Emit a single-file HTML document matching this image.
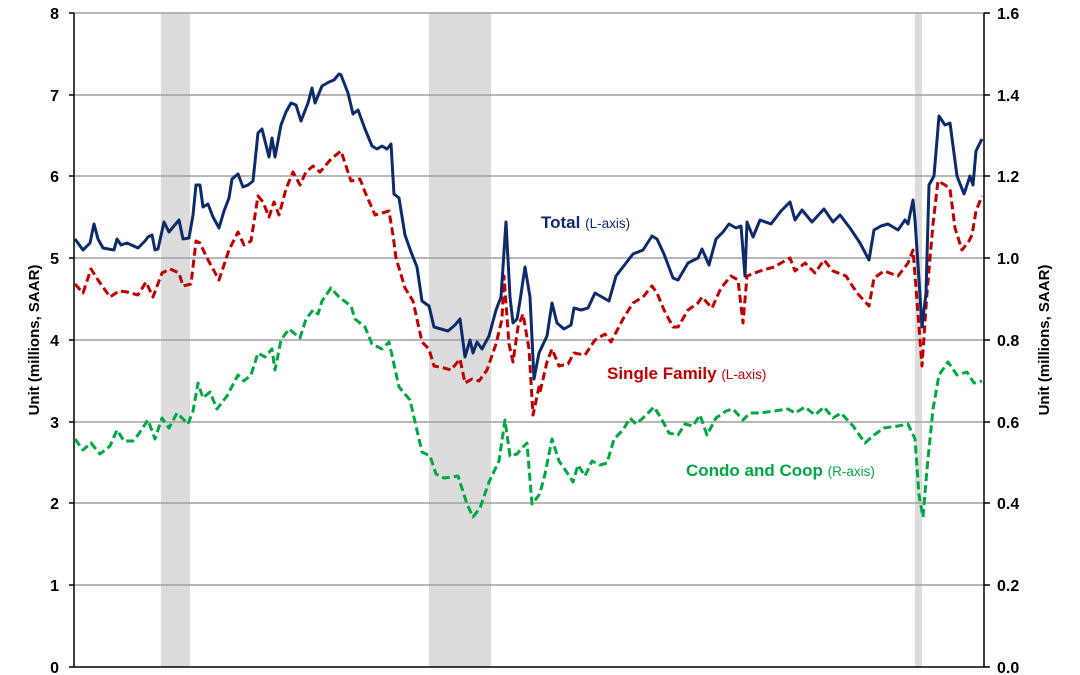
<!DOCTYPE html>
<html><head><meta charset="utf-8"><style>body{margin:0;background:#fff}svg{display:block}text{font-family:"Liberation Sans",Arial,sans-serif}</style></head><body>
<svg width="1080" height="675" viewBox="0 0 1080 675">
<rect x="161" y="13" width="29" height="654" fill="#dcdcdc"/>
<rect x="429" y="13" width="62" height="654" fill="#dcdcdc"/>
<rect x="915" y="13" width="7" height="654" fill="#dcdcdc"/>
<g stroke="#a0a0a0" stroke-width="1.5">
<line x1="74" x2="984" y1="13" y2="13"/><line x1="74" x2="984" y1="95" y2="95"/><line x1="74" x2="984" y1="176" y2="176"/><line x1="74" x2="984" y1="258" y2="258"/><line x1="74" x2="984" y1="340" y2="340"/><line x1="74" x2="984" y1="422" y2="422"/><line x1="74" x2="984" y1="503" y2="503"/><line x1="74" x2="984" y1="585" y2="585"/>
</g>
<g stroke="#000" stroke-width="1.5">
<line x1="74" x2="74" y1="13" y2="667"/><line x1="984" x2="984" y1="13" y2="667"/><line x1="69" x2="990" y1="667" y2="667"/>
<path d="M69 13H74M69 95H74M69 176H74M69 258H74M69 340H74M69 422H74M69 503H74M69 585H74M984 13H990M984 95H990M984 176H990M984 258H990M984 340H990M984 422H990M984 503H990M984 585H990"/>
</g>
<g font-size="16" font-weight="bold" fill="#000" text-anchor="end">
<text x="59" y="19">8</text><text x="59" y="101">7</text><text x="59" y="182">6</text><text x="59" y="264">5</text><text x="59" y="346">4</text><text x="59" y="428">3</text><text x="59" y="509">2</text><text x="59" y="591">1</text><text x="59" y="673">0</text>
</g>
<g font-size="16" font-weight="bold" fill="#000">
<text x="997" y="19">1.6</text><text x="997" y="101">1.4</text><text x="997" y="182">1.2</text><text x="997" y="264">1.0</text><text x="997" y="346">0.8</text><text x="997" y="428">0.6</text><text x="997" y="509">0.4</text><text x="997" y="591">0.2</text><text x="997" y="673">0.0</text>
</g>
<text transform="translate(39,340) rotate(-90)" text-anchor="middle" font-size="15" font-weight="bold">Unit (millions, SAAR)</text>
<text transform="translate(1049,340) rotate(-90)" text-anchor="middle" font-size="15" font-weight="bold">Unit (millions, SAAR)</text>
<polyline fill="none" stroke="#00a843" stroke-width="3" stroke-dasharray="8,4" stroke-linejoin="round" points="75,439 83,450 91,443 100,454 110,446 117,430 124,441 133,441 138,435 148,420 155,439 162,418 169,428 177,413 188,424 193,411 198,383 203,398 210,392 217,409 227,396 238,375 244,381 251,375 258,353 265,357 272,349 275,370 281,340 289,329 300,338 306,319 313,310 318,314 322,301 331,288 339,297 351,306 355,319 365,327 372,344 382,349 389,342 399,387 410,400 422,452 430,456 436,474 444,478 458,476 467,504 473,517 480,508 489,482 499,461 505,420 510,456 517,454 522,448 527,443 532,504 539,495 540,493 545,474 552,439 559,461 568,474 573,482 578,465 585,476 592,461 600,465 607,463 614,439 623,430 630,418 636,424 643,418 654,407 661,418 669,433 678,435 685,424 693,426 700,415 707,435 716,418 726,411 733,409 743,420 750,413 760,413 774,411 788,409 795,413 805,407 815,415 824,407 833,418 841,413 853,426 865,443 874,435 884,428 898,426 908,424 915,439 919,495 923,517 927,469 933,409 939,375 948,362 957,375 967,372 974,383 982,381"/>
<polyline fill="none" stroke="#c00000" stroke-width="3" stroke-dasharray="8,4" stroke-linejoin="round" points="75,284 83,293 91,269 98,280 110,297 119,291 127,292 138,295 146,282 153,297 162,273 170,269 179,273 183,286 191,284 196,241 200,243 207,258 219,280 229,250 238,232 244,245 251,241 258,196 263,202 269,217 274,202 279,215 286,189 293,172 300,185 306,172 313,166 320,172 331,159 341,151 351,181 360,179 365,192 375,215 382,213 389,211 393,235 396,258 405,288 413,301 422,342 429,349 434,366 444,368 451,370 460,359 465,383 472,379 479,381 487,370 496,344 502,319 504,276 509,344 513,362 518,327 523,314 529,349 533,415 539,387 540,392 547,362 552,349 559,366 568,364 574,353 585,355 595,340 605,334 611,342 623,319 633,303 643,297 652,286 657,293 664,310 673,327 678,327 688,310 698,303 702,297 712,308 721,288 731,276 738,280 743,323 747,276 760,271 774,267 781,263 790,258 795,271 805,263 815,273 824,260 833,271 846,276 857,293 869,306 874,278 884,271 898,276 908,263 913,250 917,301 922,366 927,293 933,224 938,181 945,185 950,189 955,228 962,250 969,241 972,235 976,211 982,196"/>
<polyline fill="none" stroke="#0d2a6b" stroke-width="3" stroke-linejoin="round" points="75,239 83,250 90,243 94,224 98,239 103,248 114,250 117,239 121,245 127,243 138,248 145,241 148,237 152,235 155,250 158,249 164,222 169,232 174,226 179,220 183,239 189,238 193,215 196,185 200,185 203,207 208,204 213,217 219,228 224,211 229,198 232,179 238,174 243,187 248,185 253,181 258,133 262,129 269,157 272,138 275,157 281,125 286,112 291,103 296,105 301,121 308,103 312,88 315,103 322,86 329,82 334,80 339,74 341,75 348,93 353,114 358,110 365,129 372,146 377,149 382,146 387,149 391,144 394,194 399,198 405,235 411,252 417,267 422,301 429,306 434,327 441,329 448,331 455,325 460,319 465,357 470,340 473,353 477,342 482,349 489,336 496,310 501,297 506,222 510,297 513,323 517,319 520,301 525,267 530,297 534,379 539,353 547,336 552,303 557,323 564,329 571,325 574,308 581,310 588,308 595,293 602,297 609,301 616,276 626,263 633,254 643,250 652,236 657,239 664,254 673,278 678,280 688,263 698,258 702,249 709,265 716,239 723,232 729,224 736,228 741,226 745,276 747,222 753,237 760,220 771,224 781,211 790,202 795,220 802,210 812,222 824,209 833,222 840,215 850,228 860,243 869,260 874,230 881,226 888,224 898,230 905,220 908,224 913,200 915,220 919,280 922,327 926,293 929,185 934,176 939,116 945,125 950,123 957,176 964,194 970,176 973,185 976,151 982,139"/>
<text x="541" y="228" font-size="17" font-weight="bold" fill="#0d2a6b">Total <tspan font-size="13.5" font-weight="normal">(L-axis)</tspan></text>
<text x="607" y="379" font-size="17" font-weight="bold" fill="#c00000">Single Family <tspan font-size="13.5" font-weight="normal">(L-axis)</tspan></text>
<text x="686" y="476" font-size="17" font-weight="bold" fill="#00a843">Condo and Coop <tspan font-size="13.5" font-weight="normal">(R-axis)</tspan></text>
</svg>
</body></html>
